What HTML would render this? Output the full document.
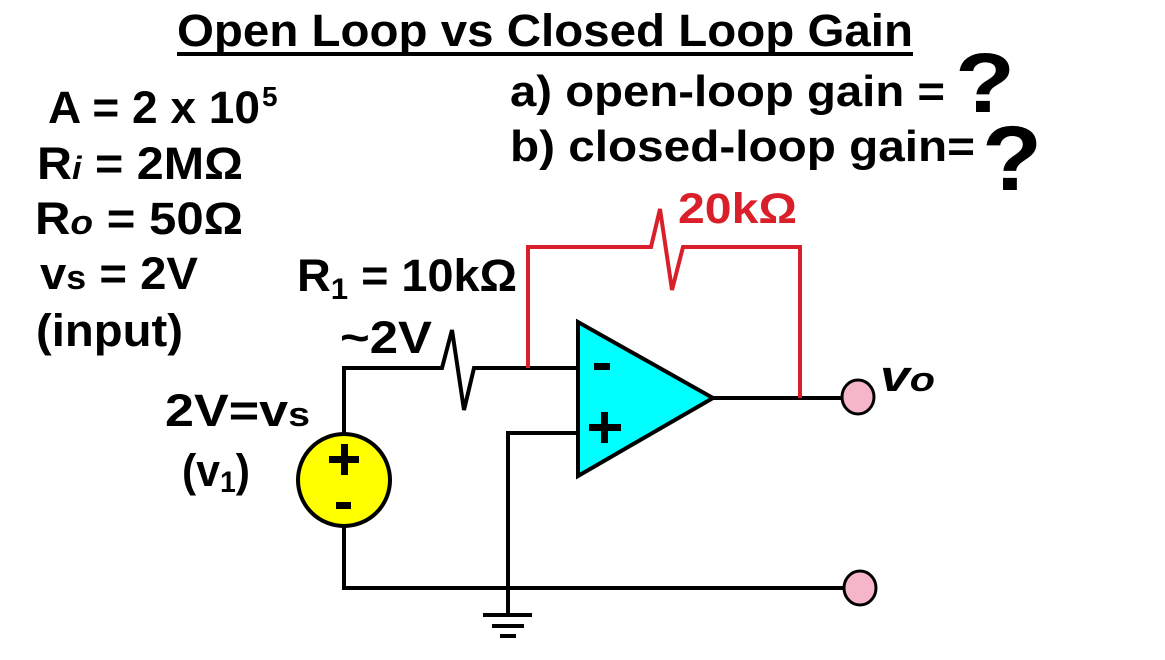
<!DOCTYPE html>
<html><head><meta charset="utf-8"><style>html,body{margin:0;padding:0;background:#fff}svg{display:block}</style></head>
<body>
<svg width="1165" height="660" viewBox="0 0 1165 660" xmlns="http://www.w3.org/2000/svg" font-family="Liberation Sans, Arial, sans-serif" font-weight="bold">
<rect width="1165" height="660" fill="#fff"/>
<text x="177" y="46" font-size="45" textLength="736" lengthAdjust="spacingAndGlyphs">Open Loop vs Closed Loop Gain</text>
<rect x="177" y="52" width="736" height="4" fill="#000"/>
<text x="48" y="123" font-size="45" textLength="212" lengthAdjust="spacingAndGlyphs">A = 2 x 10</text>
<text x="262" y="106" font-size="28">5</text>
<text x="37" y="179" font-size="45" textLength="206" lengthAdjust="spacingAndGlyphs">R<tspan font-size="32" font-style="italic">i</tspan> = 2MΩ</text>
<text x="35" y="234" font-size="45" textLength="208" lengthAdjust="spacingAndGlyphs">R<tspan font-size="34" font-style="italic">o</tspan> = 50Ω</text>
<text x="40" y="289" font-size="45" textLength="158" lengthAdjust="spacingAndGlyphs">v<tspan font-size="34">s</tspan> = 2V</text>
<text x="36" y="346" font-size="45" textLength="147" lengthAdjust="spacingAndGlyphs">(input)</text>
<text x="510" y="106" font-size="44" textLength="435" lengthAdjust="spacingAndGlyphs">a) open-loop gain =</text>
<text x="955" y="112" font-size="84" textLength="60" lengthAdjust="spacingAndGlyphs">?</text>
<text x="510" y="161" font-size="44" textLength="465" lengthAdjust="spacingAndGlyphs">b) closed-loop gain=</text>
<text x="982" y="190" font-size="92" textLength="60" lengthAdjust="spacingAndGlyphs">?</text>
<text x="678" y="223" font-size="43" fill="#d9202a" textLength="119" lengthAdjust="spacingAndGlyphs">20kΩ</text>
<text x="297" y="291" font-size="45" textLength="220" lengthAdjust="spacingAndGlyphs">R<tspan font-size="30" dy="8">1</tspan><tspan dy="-8"> = 10kΩ</tspan></text>
<text x="340" y="353" font-size="45" textLength="92" lengthAdjust="spacingAndGlyphs">~2V</text>
<text x="165" y="426" font-size="45" textLength="145" lengthAdjust="spacingAndGlyphs">2V=v<tspan font-size="34">s</tspan></text>
<text x="182" y="486" font-size="45" textLength="68" lengthAdjust="spacingAndGlyphs">(v<tspan font-size="30" dy="6">1</tspan><tspan dy="-6">)</tspan></text>
<text x="880" y="391" font-size="44" font-style="italic" textLength="55" lengthAdjust="spacingAndGlyphs">v<tspan font-size="34">o</tspan></text>
<g fill="none" stroke="#000" stroke-width="4" stroke-linejoin="miter">
<polyline points="344,433 344,368 442,368 452,330 464,410 474,368 578,368"/>
<polyline points="578,433 508,433 508,615"/>
<polyline points="344,525 344,588 843,588"/>
<line x1="713" y1="398" x2="841" y2="398"/>
<line x1="483" y1="615" x2="532" y2="615"/>
<line x1="492" y1="626" x2="524" y2="626"/>
<line x1="500" y1="636" x2="516" y2="636"/>
</g>
<polyline points="528,368 528,247 651,247 660,209 672,290 683,247 800,247 800,398" fill="none" stroke="#d9202a" stroke-width="4"/>
<polygon points="578,322 578,476 713,398" fill="#00ffff" stroke="#000" stroke-width="4"/>
<rect x="594" y="363" width="16" height="7" fill="#000"/>
<rect x="589" y="424" width="32" height="7" fill="#000"/>
<rect x="601" y="412" width="7" height="31" fill="#000"/>
<ellipse cx="344" cy="480" rx="46" ry="46" fill="#ffff00" stroke="#000" stroke-width="4"/>
<rect x="329" y="456" width="30" height="7" fill="#000"/>
<rect x="341" y="444" width="7" height="31" fill="#000"/>
<rect x="336" y="502" width="15" height="7" fill="#000"/>
<ellipse cx="858" cy="397" rx="16" ry="17" fill="#f4b6c8" stroke="#000" stroke-width="3"/>
<ellipse cx="860" cy="588" rx="16" ry="17" fill="#f4b6c8" stroke="#000" stroke-width="3"/>
</svg>
</body></html>
